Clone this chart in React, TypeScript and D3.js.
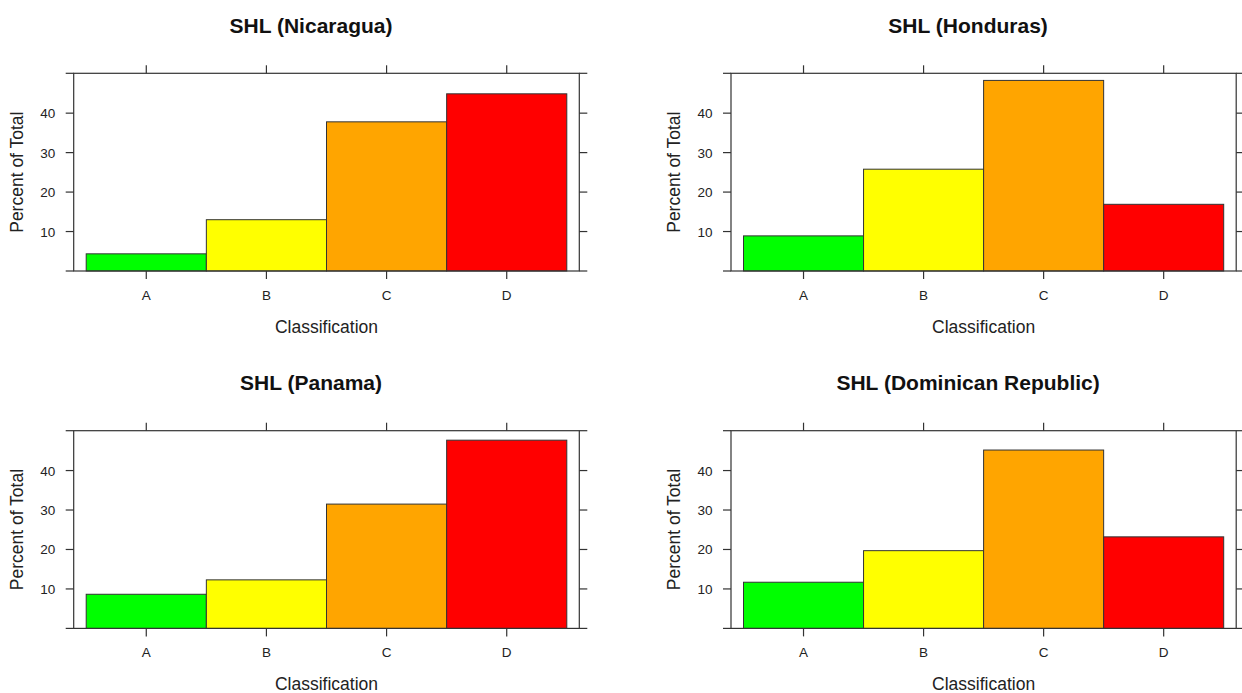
import React from "react";
import * as d3 from "d3";

const categories = ["A", "B", "C", "D"];
const barColors = ["#00FF00", "#FFFF00", "#FFA500", "#FF0000"];
const yTicks = [10, 20, 30, 40];
const titles = ["SHL (Nicaragua)", "SHL (Honduras)", "SHL (Panama)", "SHL (Dominican Republic)"];
const nicaragua = [4.35, 13.0, 37.8, 44.9];
const honduras = [8.9, 25.8, 48.3, 16.9];
const panama = [8.65, 12.3, 31.5, 47.7];
const dominican = [11.7, 19.7, 45.2, 23.2];
const seriesList = [nicaragua, honduras, panama, dominican];

const W = 1242;
const H = 693;
const FONT = "Liberation Sans, Arial, Helvetica, sans-serif";
const AX = "#333";

function Panel({ idx }: { idx: number }) {
  const col = idx % 2;
  const row = Math.floor(idx / 2);
  const x0 = col === 0 ? 73.7 : 731;
  const x1 = col === 0 ? 579.3 : 1236.2;
  const dy = row * 357.4;
  const y0 = 73.3 + dy;
  const y1 = 271 + dy;
  const pad = 12.5;
  const x = d3.scaleBand<string>().domain(categories).range([x0 + pad, x1 - pad]).padding(0);
  const y = d3.scaleLinear().domain([0, 50.1]).range([y1, y0]);
  const vals = seriesList[idx];
  const tl = 8;
  const cx = (x0 + x1) / 2;
  return (
    <g>
      <text x={cx - 15.5} y={33 + dy} textAnchor="middle" fontFamily={FONT} fontWeight="bold" fontSize={21} fill="#111">
        {titles[idx]}
      </text>
      {vals.map((v, i) => (
        <rect
          key={i}
          x={x(categories[i])!}
          y={y(v)}
          width={x.bandwidth()}
          height={y(0) - y(v)}
          fill={barColors[i]}
          stroke={AX}
          strokeWidth={1}
        />
      ))}
      <rect x={x0} y={y0} width={x1 - x0} height={y1 - y0} fill="none" stroke={AX} strokeWidth={1.2} />
      {/* corner extensions */}
      {[y0, y1].map((yy, k) => (
        <g key={k}>
          <line x1={x0 - tl} x2={x0} y1={yy} y2={yy} stroke={AX} strokeWidth={1.2} />
          <line x1={x1} x2={x1 + tl} y1={yy} y2={yy} stroke={AX} strokeWidth={1.2} />
        </g>
      ))}
      {yTicks.map((t) => (
        <g key={t}>
          <line x1={x0 - tl} x2={x0} y1={y(t)} y2={y(t)} stroke={AX} strokeWidth={1.2} />
          <line x1={x1} x2={x1 + tl} y1={y(t)} y2={y(t)} stroke={AX} strokeWidth={1.2} />
          <text x={x0 - 18.5} y={y(t) + 5} textAnchor="end" fontFamily={FONT} fontSize={13.5} fill="#222">
            {t}
          </text>
        </g>
      ))}
      {categories.map((c) => {
        const xc = x(c)! + x.bandwidth() / 2;
        return (
          <g key={c}>
            <line x1={xc} x2={xc} y1={y1} y2={y1 + tl} stroke={AX} strokeWidth={1.2} />
            <line x1={xc} x2={xc} y1={y0} y2={y0 - tl} stroke={AX} strokeWidth={1.2} />
            <text x={xc} y={y1 + 29} textAnchor="middle" fontFamily={FONT} fontSize={13.5} fill="#222">
              {c}
            </text>
          </g>
        );
      })}
      <text x={cx} y={333 + dy} textAnchor="middle" fontFamily={FONT} fontSize={17.5} fill="#222">
        Classification
      </text>
      <text
        transform={`translate(${x0 - 51},${(y0 + y1) / 2}) rotate(-90)`}
        textAnchor="middle"
        fontFamily={FONT}
        fontSize={17.5}
        fill="#222"
      >
        Percent of Total
      </text>
    </g>
  );
}

export default function App() {
  return (
    <svg width={W} height={H} style={{ position: "absolute", left: 0, top: 0, background: "#fff" }}>
      <rect width={W} height={H} fill="#fff" />
      {[0, 1, 2, 3].map((i) => (
        <Panel key={i} idx={i} />
      ))}
    </svg>
  );
}
